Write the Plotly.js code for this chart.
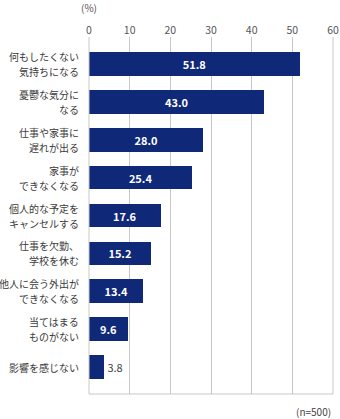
<!DOCTYPE html>
<html><head><meta charset="utf-8">
<script src="https://cdn.plot.ly/plotly-3.0.1.min.js"></script>
<style>html,body{margin:0;padding:0;background:#fff;}</style>
</head><body>
<div id="chart" style="width:340px;height:419px;"></div>
<script>
const categories = [
  "何もしたくない<br>気持ちになる",
  "憂鬱な気分に<br>なる",
  "仕事や家事に<br>遅れが出る",
  "家事が<br>できなくなる",
  "個人的な予定を<br>キャンセルする",
  "仕事を欠勤、<br>学校を休む",
  "他人に会う外出が<br>できなくなる",
  "当てはまる<br>ものがない",
  "影響を感じない"
];
const values = [51.8, 43.0, 28.0, 25.4, 17.6, 15.2, 13.4, 9.6, 3.8];
const xTicks = [0, 10, 20, 30, 40, 50, 60];

const font = "'Noto Sans CJK JP', 'Noto Sans', sans-serif";
const trace = {
  type: 'bar',
  orientation: 'h',
  x: values,
  y: categories,
  marker: {color: '#0f2878'},
  width: 0.63,
  text: values.map(v => v.toFixed(1)),
  textposition: 'auto',
  insidetextanchor: 'middle',
  insidetextfont: {color: '#ffffff', size: 11, family: font, weight: 'bold'},
  outsidetextfont: {color: '#444444', size: 11, family: font},
  textangle: 0,
  cliponaxis: false,
  hoverinfo: 'none'
};

const labelAnnots = [];
categories.forEach(c => {
  const lines = c.split('<br>');
  const n = lines.length;
  lines.forEach((ln, i) => {
    labelAnnots.push({
      text: ln, xref: 'paper', yref: 'y', x: 0, y: c, xshift: -8,
      yshift: ((n - 1) / 2 - i) * 15,
      xanchor: 'right', yanchor: 'middle', showarrow: false,
      font: {size: 10, color: '#3a3a3a', family: font}
    });
  });
});

const layout = {
  width: 340, height: 419,
  margin: {l: 89, r: 7, t: 37, b: 25},
  paper_bgcolor: '#fff', plot_bgcolor: '#fff',
  showlegend: false,
  bargap: 0,
  font: {family: font, size: 10, color: '#444'},
  xaxis: {
    side: 'top', range: [0, 60], tickvals: xTicks, ticktext: xTicks.map(String),
    showgrid: true, gridcolor: '#c8c8c8', gridwidth: 1,
    zeroline: false, showline: false, ticks: '',
    tickfont: {size: 10.5, color: '#555', family: font}, fixedrange: true
  },
  yaxis: {
    type: 'category', range: [8.7, -0.7], showticklabels: false,
    showgrid: false, zeroline: false, showline: false, ticks: '', fixedrange: true
  },
  shapes: [
    {type: 'line', xref: 'paper', yref: 'paper', x0: 0, x1: 1, y0: 0, y1: 0, line: {color: '#c8c8c8', width: 1}},
    {type: 'line', xref: 'paper', yref: 'paper', x0: 0, x1: 0, y0: 0, y1: 1, line: {color: '#c8c8c8', width: 1}},
    {type: 'line', xref: 'paper', yref: 'paper', x0: 1, x1: 1, y0: 0, y1: 1, line: {color: '#c8c8c8', width: 1}}
  ],
  annotations: labelAnnots.concat([
    {text: '(%)', xref: 'paper', yref: 'paper', x: 0, y: 1, yshift: 30, xanchor: 'center', yanchor: 'middle', showarrow: false, font: {size: 10, color: '#555', family: font}},
    {text: '(n=500)', xref: 'paper', yref: 'paper', x: 1, y: 0, yshift: -17, xanchor: 'right', yanchor: 'middle', showarrow: false, font: {size: 10, color: '#444', family: font}}
  ])
};
Plotly.newPlot('chart', [trace], layout, {displayModeBar: false, staticPlot: true});
</script>
</body></html>
